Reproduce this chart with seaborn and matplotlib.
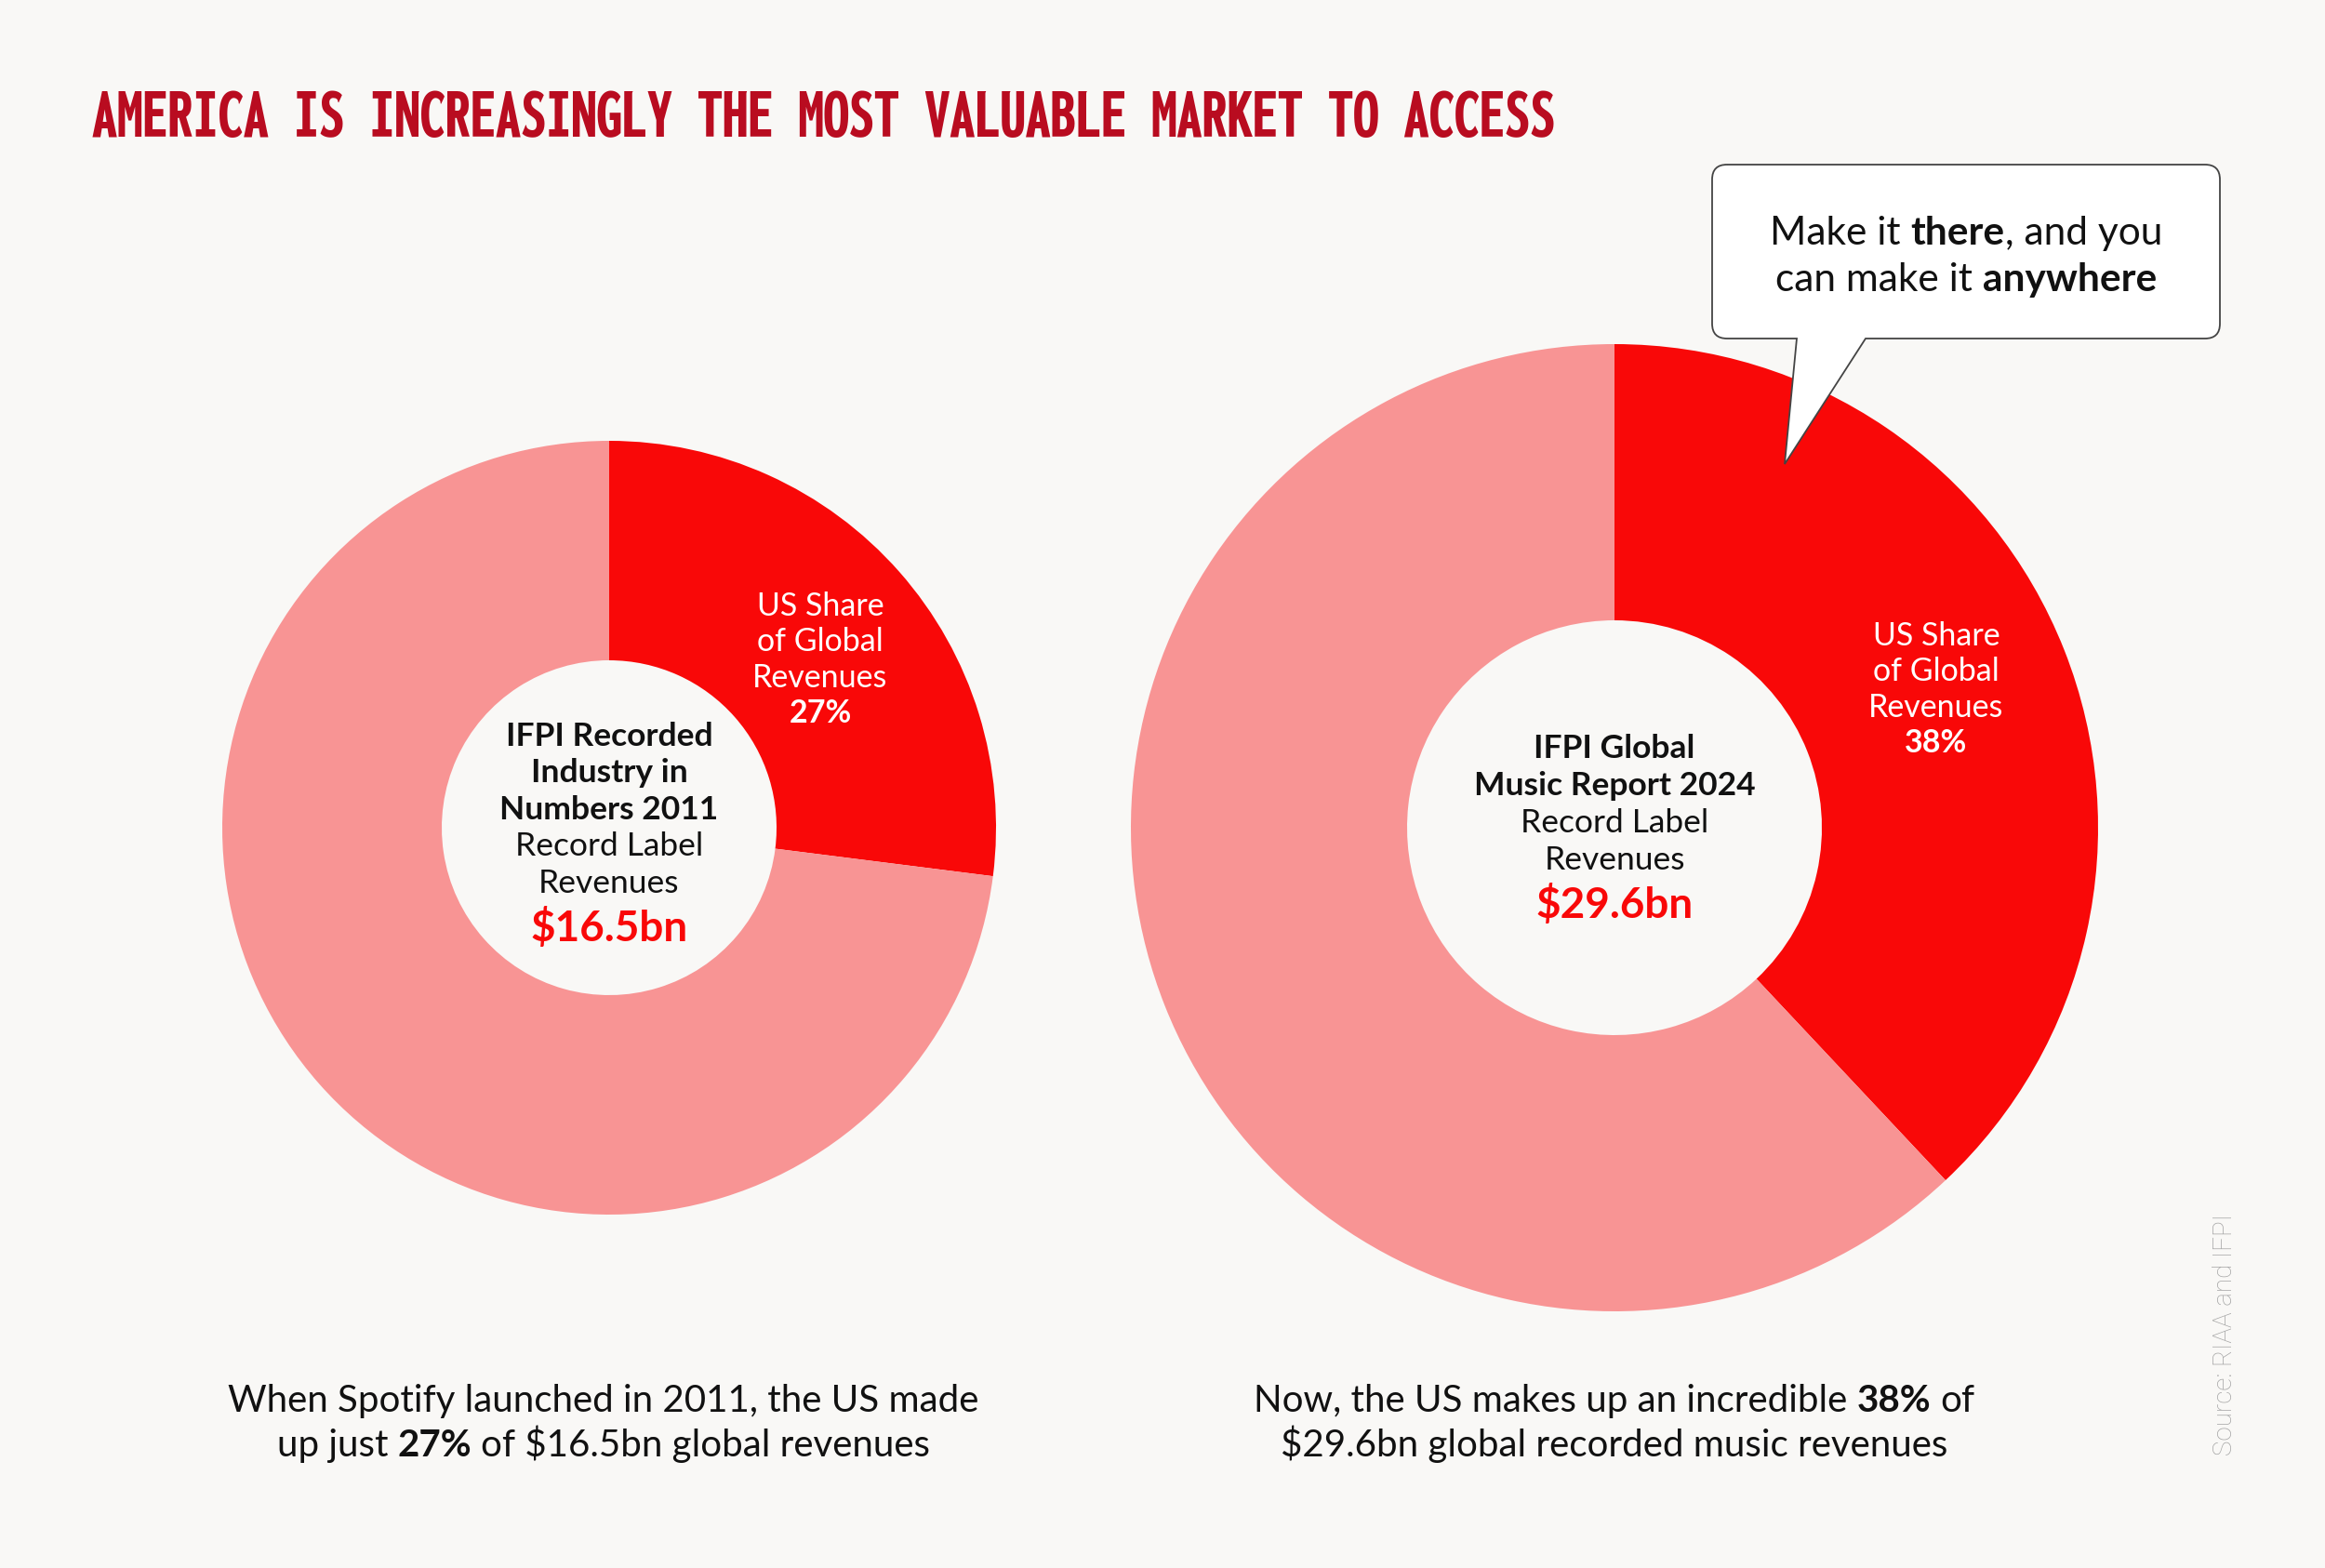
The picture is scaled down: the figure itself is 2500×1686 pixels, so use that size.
import numpy as np
import seaborn as sns
from matplotlib import pyplot as plt
from matplotlib import font_manager as fm
from matplotlib.path import Path
from matplotlib.patches import PathPatch
from matplotlib.textpath import TextPath

# data
years = ["2011", "2024"]
global_rev_bn = [16.5, 29.6]
us_share_pct = [27, 38]
report_titles = [["IFPI Recorded", "Industry in", "Numbers 2011"],
                 ["IFPI Global", "Music Report 2024"]]
share_label = ["US Share", "of Global", "Revenues"]
title = "AMERICA IS INCREASINGLY THE MOST VALUABLE MARKET TO ACCESS"
bubble_lines = [[("Make it ", "normal"), ("there", "bold"), (", and you", "normal")],
                [("can make it ", "normal"), ("anywhere", "bold")]]
captions = [
    [[("When Spotify launched in 2011, the US made", "normal")],
     [("up just ", "normal"), ("27%", "bold"), (" of $16.5bn global revenues", "normal")]],
    [[("Now, the US makes up an incredible ", "normal"), ("38%", "bold"), (" of", "normal")],
     [("$29.6bn global recorded music revenues", "normal")]],
]
source = "Source: RIAA and IFPI"

bg = "#f9f8f6"
dark_red = "#f90808"
light_red = "#f89494"
title_red = "#b90c20"

sns.set_theme(style="white", rc={"figure.facecolor": bg, "axes.facecolor": bg})
plt.rcParams['font.family'] = ['Lato', 'DejaVu Sans']
pal = sns.color_palette([dark_red, light_red])

fig = plt.figure(figsize=(25, 16.86), dpi=100)
ax = fig.add_axes([0, 0, 1, 1])

# donut layout (pixel units, y up)
centers = [(655, 796), (1736, 796)]
outer_r = [416, 520]
inner_r = [180, 223]

for i in range(2):
    ax.pie([us_share_pct[i], 100 - us_share_pct[i]], colors=pal, startangle=90,
           counterclock=False, radius=outer_r[i], center=centers[i], frame=True,
           wedgeprops=dict(width=outer_r[i] - inner_r[i], linewidth=0))

ax.set_xlim(0, 2500)
ax.set_ylim(0, 1686)
ax.set_aspect('auto')
ax.axis('off')

renderer = fig.canvas.get_renderer()


def text_width(s, size, weight):
    t = ax.text(0, 0, s, fontsize=size, fontweight=weight)
    w = t.get_window_extent(renderer).width
    t.remove()
    return w


def rich_line(x, y, parts, size, color="#111111", zorder=5):
    sp = text_width("x x", size, "normal") - text_width("xx", size, "normal")
    items = []
    total = 0
    for s, wt in parts:
        lead = len(s) - len(s.lstrip(" "))
        trail = len(s) - len(s.rstrip(" "))
        core = s.strip(" ")
        total += lead * sp
        items.append((total, core, wt))
        total += text_width(core, size, wt) + trail * sp
    x0 = x - total / 2
    for off, core, wt in items:
        ax.text(x0 + off, y, core, fontsize=size, fontweight=wt, color=color,
                ha="left", va="baseline", zorder=zorder)


# title - pick the bold narrow face whose width/cap-height is closest to the
# reference lettering (about 1571 px wide for 48 px caps), then fit the width
weight_num = {"bold": 700, "heavy": 800, "black": 900, "extra bold": 800,
              "semibold": 600, "demibold": 600}
target_w, target_cap = 1571, 48
cands = []
for f in fm.fontManager.ttflist:
    narrow = ("Narrow" in f.name or "Condensed" in f.name
              or "condensed" in str(f.stretch))
    w = f.weight if isinstance(f.weight, int) else weight_num.get(f.weight, 400)
    if narrow and w >= 700 and f.style == "normal":
        cands.append(f.fname)
best, best_score = None, None
for fname in sorted(set(cands))[:80]:
    try:
        fp = fm.FontProperties(fname=fname)
        ww = TextPath((0, 0), title, size=40, prop=fp).get_extents().width
        hh = TextPath((0, 0), "H", size=40, prop=fp).get_extents().height
    except Exception:
        continue
    score = abs(np.log((ww / hh) / (target_w / target_cap)))
    if best_score is None or score < best_score:
        best, best_score = fp, score
title_fp = best if best is not None else fm.FontProperties(family="DejaVu Sans",
                                                           weight="bold")

t = ax.text(99, 1539, title, fontproperties=title_fp, fontsize=40, color=title_red,
            ha="left", va="baseline")
tw = t.get_window_extent(renderer).width
t.set_fontsize(min(80, 40 * target_w / tw))

# centre texts
centre_y = [[792, 831, 871, 910, 950, 998], [805, 845, 885, 925, 973]]
for i in range(2):
    cx = centers[i][0]
    ys = centre_y[i]
    lines = report_titles[i]
    for j, s in enumerate(lines):
        ax.text(cx, 1686 - ys[j], s, fontsize=25.5, fontweight="bold", color="#111111",
                ha="center", va="center")
    n = len(lines)
    ax.text(cx, 1686 - ys[n], "Record Label", fontsize=25.5, color="#111111",
            ha="center", va="center")
    ax.text(cx, 1686 - ys[n + 1], "Revenues", fontsize=25.5, color="#111111",
            ha="center", va="center")
    ax.text(cx, 1686 - ys[n + 2], f"${global_rev_bn[i]}bn", fontsize=33,
            fontweight="bold", color=dark_red, ha="center", va="center")

# share labels on the red wedges
label_pos = [(882, [652, 690, 729, 767]), (2082, [684, 722, 761, 799])]
for i in range(2):
    lx, lys = label_pos[i]
    for j, s in enumerate(share_label):
        ax.text(lx, 1686 - lys[j], s, fontsize=24.5, color="white", ha="center", va="center")
    ax.text(lx, 1686 - lys[3], f"{us_share_pct[i]}%", fontsize=24.5, fontweight="bold",
            color="white", ha="center", va="center")

# speech bubble
L, R, T, B, r = 1841, 2387, 1509, 1322, 16
tb1, tb2, tip = 1932, 2006, (1919, 1187)
verts = [(L + r, T), (R - r, T), (R, T), (R, T - r), (R, B + r), (R, B), (R - r, B),
         (tb2, B), tip, (tb1, B), (L + r, B), (L, B), (L, B + r), (L, T - r), (L, T),
         (L + r, T)]
codes = [Path.MOVETO, Path.LINETO, Path.CURVE3, Path.CURVE3, Path.LINETO, Path.CURVE3,
         Path.CURVE3, Path.LINETO, Path.LINETO, Path.LINETO, Path.LINETO, Path.CURVE3,
         Path.CURVE3, Path.LINETO, Path.CURVE3, Path.CURVE3]
ax.add_patch(PathPatch(Path(verts, codes), facecolor="white", edgecolor="#444444",
                       linewidth=1.3, zorder=4))
rich_line(2114, 1686 - 263, bubble_lines[0], 30.5)
rich_line(2114, 1686 - 313, bubble_lines[1], 30.5)

# captions under the donuts
cap_x = [649, 1736]
for i in range(2):
    rich_line(cap_x[i], 1686 - 1518, captions[i][0], 29)
    rich_line(cap_x[i], 1686 - 1566, captions[i][1], 29)

# source
ax.text(2393, 1686 - 1435, source, rotation=90, fontsize=20, color="#a4a4a4",
        family=["Roboto", "DejaVu Sans"], fontweight="light", ha="center", va="center")

plt.savefig("out.png", dpi=100, facecolor=bg)
